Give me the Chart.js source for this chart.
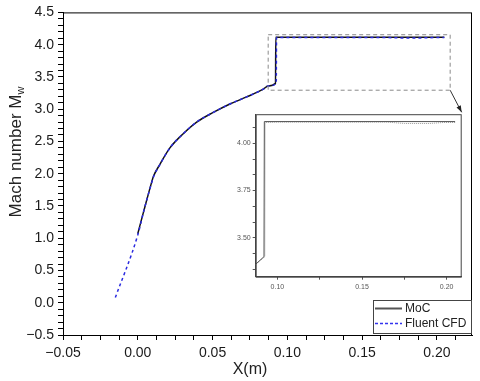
<!DOCTYPE html>
<html>
<head>
<meta charset="utf-8">
<script src="https://cdn.jsdelivr.net/npm/chart.js@4/dist/chart.umd.min.js"></script>
<style>
  html, body { margin: 0; padding: 0; background: #fff; }
  #wrap { position: relative; width: 480px; height: 381px; }
  #main { position: absolute; left: 0; top: 0; }
  #inset { position: absolute; left: 228px; top: 108px; }
</style>
</head>
<body>
<div id="wrap">
  <canvas id="main" width="480" height="381"></canvas>
  <canvas id="inset" width="240" height="190"></canvas>
</div>
<script>
// MoC (method of characteristics) wall Mach number
const mocX = [0.0, 0.004, 0.0093, 0.0105, 0.0148, 0.0215, 0.0304, 0.0394, 0.0505, 0.0616, 0.0728, 0.0839, 0.0872, 0.0921, 0.0923, 0.205]
const mocY = [1.07, 1.42, 1.87, 1.96, 2.145, 2.40, 2.62, 2.80, 2.95, 3.08, 3.19, 3.31, 3.36, 3.40, 4.115, 4.115]

// Fluent CFD wall Mach number
const cfdX = [-0.015, 0.0, 0.004, 0.0093, 0.0105, 0.0148, 0.0215, 0.0304, 0.0394, 0.0505, 0.0616, 0.0728, 0.0839, 0.0872, 0.0926, 0.0928, 0.10, 0.165, 0.175, 0.19, 0.198, 0.205]
const cfdY = [0.08, 1.05, 1.42, 1.86, 1.95, 2.14, 2.40, 2.62, 2.80, 2.95, 3.08, 3.19, 3.31, 3.36, 3.40, 4.11, 4.112, 4.112, 4.105, 4.105, 4.11, 4.11]

// axes
const xRange = [-0.05, 0.2235]
const yRange = [-0.5, 4.5]
const xMajor = [-0.05, 0.0, 0.05, 0.10, 0.15, 0.20]
const yMajor = [-0.5, 0.0, 0.5, 1.0, 1.5, 2.0, 2.5, 3.0, 3.5, 4.0, 4.5]

// zoomed region shown in the inset
const zoomX = [0.0872, 0.2089]
const zoomY = [3.294, 4.154]
const zoomXMajor = [0.10, 0.15, 0.20]
const zoomYMajor = [3.50, 3.75, 4.00]

const seriesNames = ['MoC', 'Fluent CFD']

const pts = (xs, ys) => xs.map((x, i) => ({ x: x, y: ys[i] }))
const fmt = (v, d) => (v < 0 ? '\u2212' : '') + Math.abs(v).toFixed(d)

// major ticks plus evenly spaced minor ones
function tickSet(major, nMinor, lo, hi) {
    const step = (major[1] - major[0]) / (nMinor + 1)
    const out = []
    for (let k = -10; k < 200; k++) {
        const v = major[0] + k * step
        if (v < lo - 1e-9 || v > hi + 1e-9) continue
        const isMajor = major.some(m => Math.abs(m - v) < 1e-9)
        out.push({ value: v, major: isMajor })
    }
    return out
}

const FONT = '"Liberation Sans", Arial, sans-serif'

const extras = {
    id: 'extras',
    afterDraw(chart) {
        const c = chart.ctx
        const a = chart.chartArea
        const xs = chart.scales.x
        const ys = chart.scales.y
        c.save()
        // frame
        c.strokeStyle = '#000'
        c.lineWidth = 1
        c.strokeRect(a.left + 0.5, a.top + 0.5, a.right - a.left - 1, a.bottom - a.top)

        // dashed zoom box
        const bx0 = xs.getPixelForValue(zoomX[0]), bx1 = xs.getPixelForValue(zoomX[1])
        const by0 = ys.getPixelForValue(zoomY[1]), by1 = ys.getPixelForValue(zoomY[0])
        c.strokeStyle = '#8a8a8a'
        c.setLineDash([4, 3])
        c.strokeRect(bx0, by0, bx1 - bx0, by1 - by0)
        c.setLineDash([])

        // arrow to inset corner
        const ex = 228 + 240 - 6.3, ey = 108 + 4.3
        c.strokeStyle = '#333'
        c.fillStyle = '#222'
        c.beginPath()
        c.moveTo(bx1, by1)
        c.lineTo(ex, ey)
        c.stroke()
        const ang = Math.atan2(ey - by1, ex - bx1)
        c.beginPath()
        c.moveTo(ex, ey)
        c.lineTo(ex - 7 * Math.cos(ang - 0.35), ey - 7 * Math.sin(ang - 0.35))
        c.lineTo(ex - 7 * Math.cos(ang + 0.35), ey - 7 * Math.sin(ang + 0.35))
        c.closePath()
        c.fill()

        // legend
        const lx = 373, ly = 300, lw = 98, lh = 33
        c.fillStyle = '#fff'
        c.fillRect(lx, ly, lw, lh)
        c.strokeStyle = '#444'
        c.strokeRect(lx + 0.5, ly + 0.5, lw, lh)
        c.lineWidth = 2
        c.strokeStyle = '#555'
        c.beginPath(); c.moveTo(375, 308.5); c.lineTo(402, 308.5); c.stroke()
        c.lineWidth = 1.3
        c.strokeStyle = '#3434ee'
        c.setLineDash([3, 2])
        c.beginPath(); c.moveTo(375, 323.5); c.lineTo(402, 323.5); c.stroke()
        c.setLineDash([])
        c.fillStyle = '#222'
        c.font = '12px ' + FONT
        c.textBaseline = 'middle'
        c.textAlign = 'left'
        c.fillText(seriesNames[0], 405, 309)
        c.fillText(seriesNames[1], 405, 324)

        // axis titles
        c.font = '16px ' + FONT
        c.textAlign = 'center'
        c.fillText('X(m)', 250, 370)

        c.translate(16, 152)
        c.rotate(-Math.PI / 2)
        const main = 'Mach number M'
        c.font = '11px ' + FONT
        const subW = c.measureText('w').width
        c.font = '17px ' + FONT
        const mainW = c.measureText(main).width
        const start = -(mainW + subW) / 2
        c.textAlign = 'left'
        c.fillText(main, start, 0)
        c.font = '11px ' + FONT
        c.fillText('w', start + mainW, 5)
        c.restore()
    }
}

const mainChart = new Chart(document.getElementById('main').getContext('2d'), {
    type: 'scatter',
    data: {
        datasets: [{
            label: seriesNames[1],
            data: pts(cfdX, cfdY),
            showLine: true,
            borderColor: '#2a2ae0',
            borderWidth: 1.5,
            borderDash: [3, 3],
            pointRadius: 0,
            cubicInterpolationMode: 'monotone',
            order: 0
        }, {
            label: seriesNames[0],
            data: pts(mocX, mocY),
            showLine: true,
            borderColor: '#111',
            borderWidth: 1.5,
            pointRadius: 0,
            cubicInterpolationMode: 'monotone',
            order: 1
        }]
    },
    options: {
        responsive: false,
        animation: false,
        layout: { padding: { left: 0, right: 8, top: 4, bottom: 0 } },
        plugins: { legend: { display: false }, tooltip: { enabled: false } },
        scales: {
            x: {
                type: 'linear',
                min: xRange[0],
                max: xRange[1],
                afterBuildTicks: s => { s.ticks = tickSet(xMajor, 3, xRange[0], xRange[1]) },
                afterFit: s => { s.height = 46 },
                grid: { drawOnChartArea: false, tickLength: 5, color: '#000' },
                border: { color: '#000', width: 1 },
                ticks: {
                    autoSkip: false,
                    maxRotation: 0,
                    padding: 5,
                    color: '#1a1a1a',
                    font: { family: FONT, size: 14 },
                    callback: (v, i, t) => t[i].major ? fmt(v, 2) : ''
                }
            },
            y: {
                type: 'linear',
                min: yRange[0],
                max: yRange[1],
                afterBuildTicks: s => { s.ticks = tickSet(yMajor, 4, yRange[0], yRange[1]) },
                afterFit: s => { s.width = 63 },
                grid: { drawOnChartArea: false, tickLength: 5, color: '#000' },
                border: { color: '#000', width: 1 },
                ticks: {
                    autoSkip: false,
                    padding: 4,
                    color: '#1a1a1a',
                    font: { family: FONT, size: 14 },
                    callback: (v, i, t) => t[i].major ? fmt(v, 1) : ''
                }
            }
        }
    },
    plugins: [extras]
})

const insetFrame = {
    id: 'insetFrame',
    afterDraw(chart) {
        const c = chart.ctx
        const a = chart.chartArea
        c.save()
        c.strokeStyle = '#444'
        c.lineWidth = 1
        c.strokeRect(a.left + 0.5, a.top + 0.5, a.right - a.left - 1, a.bottom - a.top)
        c.restore()
    }
}

const insetChart = new Chart(document.getElementById('inset').getContext('2d'), {
    type: 'scatter',
    data: {
        datasets: [{
            label: seriesNames[1],
            data: pts(cfdX, cfdY),
            showLine: true,
            borderColor: '#9a9a9a',
            borderWidth: 1,
            borderDash: [1, 1],
            pointRadius: 0,
            order: 1
        }, {
            label: seriesNames[0],
            data: pts(mocX, mocY),
            showLine: true,
            borderColor: '#555',
            borderWidth: 1,
            pointRadius: 0,
            order: 0
        }]
    },
    options: {
        responsive: false,
        animation: false,
        layout: { padding: { left: 0, right: 6.3, top: 4.3, bottom: 0 } },
        plugins: { legend: { display: false }, tooltip: { enabled: false } },
        scales: {
            x: {
                type: 'linear',
                min: zoomX[0],
                max: zoomX[1],
                afterBuildTicks: s => { s.ticks = tickSet(zoomXMajor, 1, zoomX[0], zoomX[1]) },
                afterFit: s => { s.height = 21.3 },
                grid: { drawOnChartArea: false, tickLength: 3, color: '#555' },
                border: { color: '#444', width: 1 },
                ticks: {
                    autoSkip: false,
                    maxRotation: 0,
                    padding: 3,
                    color: '#555',
                    font: { family: FONT, size: 7 },
                    callback: (v, i, t) => t[i].major ? v.toFixed(2) : ''
                }
            },
            y: {
                type: 'linear',
                min: zoomY[0],
                max: zoomY[1],
                afterBuildTicks: s => { s.ticks = tickSet(zoomYMajor, 2, zoomY[0], zoomY[1]) },
                afterFit: s => { s.width = 27.7 },
                grid: { drawOnChartArea: false, tickLength: 3, color: '#555' },
                border: { color: '#444', width: 1 },
                ticks: {
                    autoSkip: false,
                    padding: 2,
                    color: '#555',
                    font: { family: FONT, size: 7 },
                    callback: (v, i, t) => t[i].major ? v.toFixed(2) : ''
                }
            }
        }
    },
    plugins: [insetFrame]
})
</script>
</body>
</html>
